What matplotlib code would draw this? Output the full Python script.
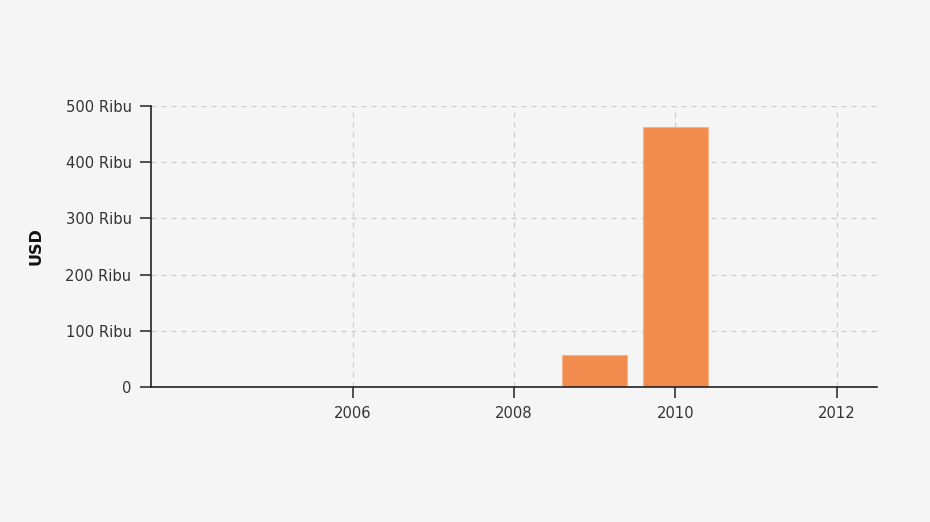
import matplotlib
matplotlib.use("Agg")
import matplotlib.pyplot as plt
from matplotlib.ticker import FuncFormatter

plt.rcParams["font.family"] = ["DejaVu Sans"]

years = [2004, 2005, 2006, 2007, 2008, 2009, 2010, 2011, 2012]
values = [0, 0, 0, 0, 0, 57000, 463000, 0, 0]
x_ticks = [2006, 2008, 2010, 2012]
y_ticks = [0, 100000, 200000, 300000, 400000, 500000]
y_label = "USD"

bg = "#f5f5f5"
fig = plt.figure(figsize=(9.3, 5.22), dpi=100, facecolor=bg)
ax = fig.add_axes([151/930, 1-387/522, (877-151)/930, (387-106)/522])
ax.set_facecolor(bg)

ax.bar(years, values, width=0.8, color="#f28b4e", edgecolor="#f7b48c", linewidth=0.8, zorder=3)

ax.set_xlim(2003.5, 2012.5)
ax.set_ylim(0, 500000)
ax.set_xticks(x_ticks)
ax.set_yticks(y_ticks)
ax.yaxis.set_major_formatter(FuncFormatter(lambda v, p: "0" if v == 0 else f"{int(v/1000)} Ribu"))

ax.grid(True, color="#cccccc", linestyle=(0, (4, 4)), linewidth=0.9, zorder=0)
for s in ["top", "right"]:
    ax.spines[s].set_visible(False)
for s in ["left", "bottom"]:
    ax.spines[s].set_color("#222222")
    ax.spines[s].set_linewidth(1.2)
    ax.spines[s].set_zorder(4)

ax.tick_params(axis="both", direction="out", length=8, width=1.2, color="#333333",
               labelsize=10.6, labelcolor="#333333", pad=6)
ax.set_ylabel(y_label, fontsize=11.5, fontweight="bold", color="#111111", labelpad=16)

fig.savefig("out.png", dpi=100, facecolor=bg)
